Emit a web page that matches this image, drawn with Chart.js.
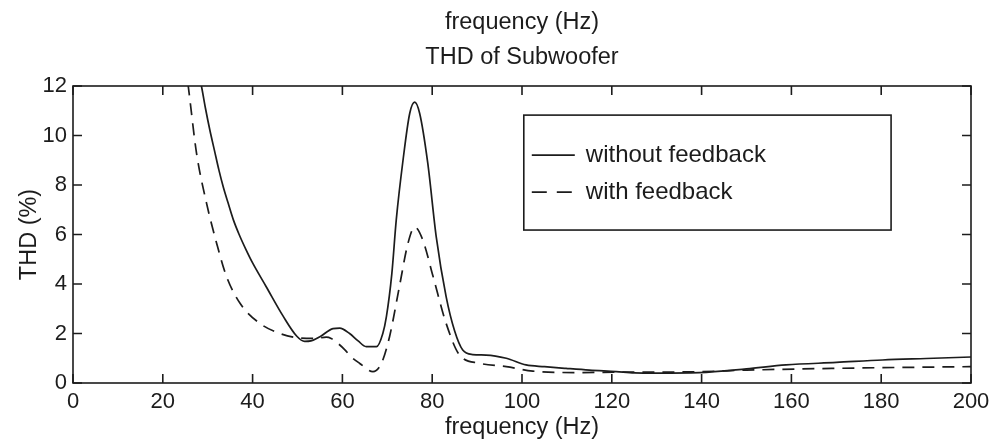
<!DOCTYPE html>
<html>
<head>
<meta charset="utf-8">
<script src="https://cdn.jsdelivr.net/npm/chart.js@4.4.1/dist/chart.umd.min.js"></script>
<style>
  html, body { margin: 0; padding: 0; background: #fff; }
  #wrap { width: 1008px; height: 442px; }
</style>
</head>
<body>
<div id="wrap"><canvas id="thdChart" width="1008" height="442"></canvas></div>
<script>
// frequency (Hz) and THD (%)
const freqNoFb = [28.2, 28.6, 29.5, 30.5, 31.5, 32.5, 33.5, 34.5, 35.7, 37, 38.5, 40, 43, 46.8, 49.8, 51.6, 53, 55, 57.9, 59.4, 61.6, 63.5, 65.3, 67.6, 69, 69.8, 71, 72, 73.5, 75, 76.1, 77.2, 79, 80.9, 83.1, 85, 86.8, 89, 92, 96.5, 100.9, 105, 109.8, 115, 121, 125, 130, 139.5, 150, 158.8, 170, 180.3, 190, 200];
const thdNoFb  = [12.3, 12.0, 11.1, 10.2, 9.4, 8.6, 7.9, 7.3, 6.6, 6.0, 5.4, 4.85, 3.9, 2.7, 1.9, 1.68, 1.7, 1.87, 2.2, 2.22, 2.0, 1.7, 1.47, 1.47, 2.0, 2.68, 4.4, 6.6, 9.0, 10.9, 11.35, 10.9, 8.9, 5.9, 3.49, 2.1, 1.33, 1.15, 1.13, 1.0, 0.73, 0.66, 0.59, 0.52, 0.46, 0.41, 0.4, 0.42, 0.57, 0.73, 0.83, 0.93, 0.99, 1.05];

const freqFb = [25.6, 26, 27.5, 29.7, 32, 34.2, 37.2, 41.6, 46.1, 50.5, 54, 56.4, 57.5, 59, 60.5, 62, 63.8, 66.8, 68.7, 70.5, 72.7, 74.6, 76.1, 77.9, 80.2, 83.1, 86.1, 90.5, 96.5, 102.4, 113.5, 121, 130, 140, 150, 169, 185, 200];
const thdFb  = [12.1, 11.5, 9.3, 7.3, 5.64, 4.3, 3.22, 2.41, 2.0, 1.82, 1.8, 1.85, 1.8, 1.6, 1.35, 1.05, 0.8, 0.46, 0.8, 1.87, 3.9, 5.64, 6.3, 5.78, 4.3, 2.41, 1.13, 0.8, 0.66, 0.48, 0.42, 0.44, 0.44, 0.46, 0.52, 0.59, 0.63, 0.66];

const seriesLabels = ["without feedback", "with feedback"];
const titleLines = ["frequency (Hz)", "THD of Subwoofer"];
const xTitle = "frequency (Hz)";
const yTitle = "THD (%)";

const ink = "#1c1c1c";
const fontFamily = "'Liberation Sans', Arial, Helvetica, sans-serif";

function toPoints(xs, ys) {
  return xs.map((x, i) => ({ x: x, y: ys[i] }));
}

// frame, inward ticks on all four sides, legend box inside the axes
const matlabFrame = {
  id: "matlabFrame",
  afterDraw(chart) {
    const ctx = chart.ctx;
    const a = chart.chartArea;
    const xs = chart.scales.x;
    const ys = chart.scales.y;
    const tl = 9;

    ctx.save();
    ctx.strokeStyle = ink;
    ctx.lineWidth = 1.6;
    ctx.strokeRect(a.left, a.top, a.right - a.left, a.bottom - a.top);

    ctx.beginPath();
    xs.ticks.forEach(t => {
      const px = xs.getPixelForValue(t.value);
      ctx.moveTo(px, a.bottom); ctx.lineTo(px, a.bottom - tl);
      ctx.moveTo(px, a.top); ctx.lineTo(px, a.top + tl);
    });
    ys.ticks.forEach(t => {
      const py = ys.getPixelForValue(t.value);
      ctx.moveTo(a.left, py); ctx.lineTo(a.left + tl, py);
      ctx.moveTo(a.right, py); ctx.lineTo(a.right - tl, py);
    });
    ctx.stroke();

    // legend
    const w = a.right - a.left, h = a.bottom - a.top;
    const bx = a.left + w * 0.502, by = a.top + h * 0.098;
    const bw = w * 0.409, bh = h * 0.387;
    ctx.fillStyle = "#fff";
    ctx.fillRect(bx, by, bw, bh);
    ctx.lineWidth = 1.6;
    ctx.strokeRect(bx, by, bw, bh);

    ctx.font = "24px " + fontFamily;
    ctx.textBaseline = "middle";
    ctx.fillStyle = ink;
    chart.data.datasets.forEach((ds, i) => {
      const ly = by + 40 + i * 37;
      ctx.beginPath();
      ctx.lineWidth = 1.6;
      ctx.setLineDash(ds.borderDash ? [15, 10] : []);
      ctx.moveTo(bx + 8, ly);
      ctx.lineTo(bx + (ds.borderDash ? 48 : 51), ly);
      ctx.stroke();
      ctx.setLineDash([]);
      ctx.fillText(ds.label, bx + 62, ly);
    });
    ctx.restore();
  }
};

function render() {
  new Chart(document.getElementById("thdChart"), {
    type: "line",
    data: {
      datasets: [{
        label: seriesLabels[0],
        data: toPoints(freqNoFb, thdNoFb),
        borderColor: ink,
        borderWidth: 1.7,
        pointRadius: 0,
        cubicInterpolationMode: "monotone",
        fill: false
      }, {
        label: seriesLabels[1],
        data: toPoints(freqFb, thdFb),
        borderColor: ink,
        borderWidth: 1.7,
        borderDash: [12, 8],
        pointRadius: 0,
        cubicInterpolationMode: "monotone",
        fill: false
      }]
    },
    options: {
      responsive: false,
      animation: false,
      layout: { padding: { left: 0, right: 37, top: 0, bottom: 0 } },
      plugins: {
        legend: { display: false },
        tooltip: { enabled: false }
      },
      scales: {
        // top axis only carries the two title lines, centred over the axes like MATLAB
        xTop: {
          type: "linear",
          position: "top",
          min: 0,
          max: 200,
          ticks: { display: false },
          grid: { display: false, drawTicks: false },
          border: { display: false },
          title: { display: true, text: titleLines, color: ink, padding: { top: 5, bottom: 0 },
                   font: { family: fontFamily, size: 23.5, lineHeight: 35 / 23.5 } },
          afterFit(scale) { scale.height = 86; }
        },
        x: {
          type: "linear",
          min: 0,
          max: 200,
          ticks: { stepSize: 20, color: ink, padding: 6, maxRotation: 0,
                   font: { family: fontFamily, size: 22 } },
          grid: { display: false, drawTicks: false },
          border: { display: false },
          title: { display: true, text: xTitle, color: ink, padding: { top: 0, bottom: 0 },
                   font: { family: fontFamily, size: 23.5 } },
          afterFit(scale) { scale.height = 59; }
        },
        y: {
          min: 0,
          max: 12,
          ticks: { stepSize: 2, color: ink, padding: 6,
                   font: { family: fontFamily, size: 22 } },
          grid: { display: false, drawTicks: false },
          border: { display: false },
          title: { display: true, text: yTitle, color: ink, padding: { top: 15, bottom: 0 },
                   font: { family: fontFamily, size: 23.5 } },
          afterFit(scale) { scale.width = 73; }
        }
      }
    },
    plugins: [matlabFrame]
  });
}

render();
</script>
</body>
</html>
